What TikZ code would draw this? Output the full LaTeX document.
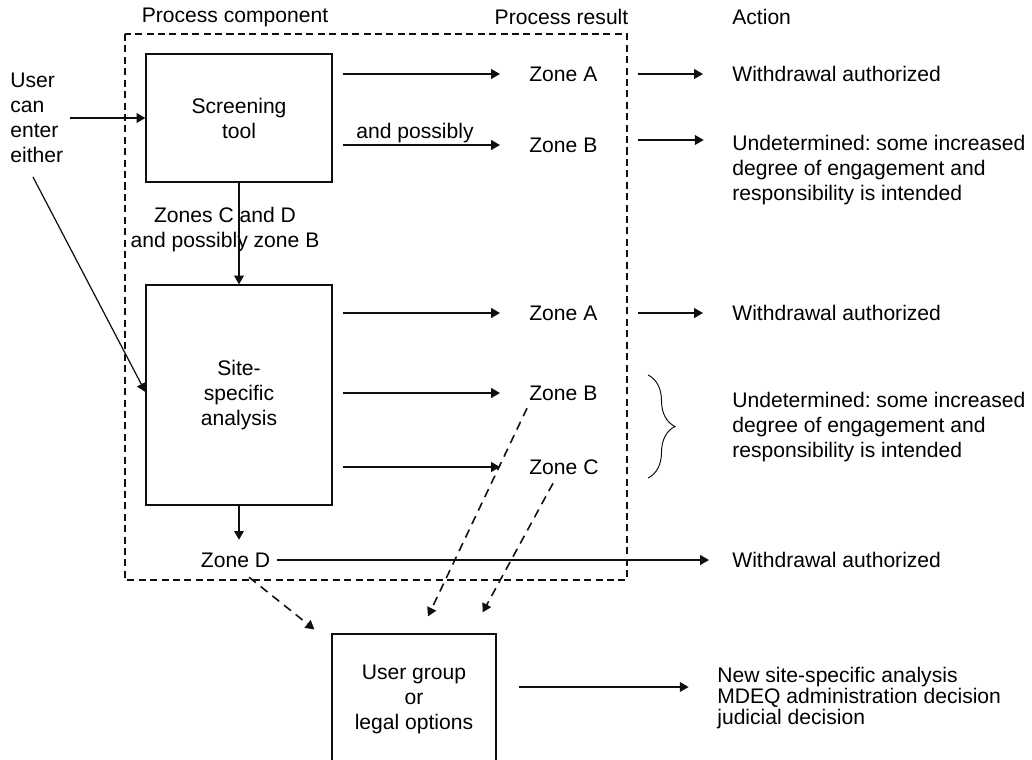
\documentclass[tikz,border=0pt]{standalone}
\usepackage{fontspec}
\setmainfont{Liberation Sans}
\usepackage{tikz}
\usetikzlibrary{arrows.meta, positioning, calc, decorations.pathreplacing}
\definecolor{mydark}{RGB}{15,15,15}
\newcommand{\diagfont}{\fontsize{12}{14.2}\selectfont\frenchspacing}
\tikzset{
  box/.style={rectangle, draw=mydark, align=center, line width=0.7pt, inner sep=2pt},
  lbl/.style={inner sep=0pt, align=center},
  zone/.style={inner sep=0pt, anchor=west},
  acttext/.style={inner sep=0pt, anchor=west, align=left},
  arrow/.style={-{Triangle[length=5pt,width=5.5pt]}, line width=0.9pt, color=mydark},
  res/.style={arrow, shorten <=0.2cm, shorten >=0.58cm},
  dasharrow/.style={arrow, dash pattern=on 5pt off 3.5pt},
  zoneframe/.style={line width=1pt, dash pattern=on 4pt off 2.5pt, color=mydark},
  curly/.style={decorate, decoration={brace, amplitude=0.54cm}, line width=0.55pt, color=mydark}
}

\begin{document}
\begin{tikzpicture}[font=\diagfont]
  \useasboundingbox (0,0) rectangle (20.64,-15.18);

  % Column headings
  \node[lbl] (hcomp) at (4.70,-0.34) {Process component};
  \node[lbl] (hres) at (11.23,-0.34) {Process result};
  \node[acttext] (hact) at (14.64,-0.34) {Action};

  % Process boundary
  \draw[zoneframe] (2.5,-0.68) rectangle (12.54,-11.6);

  % Process components
  \node[box, minimum width=3.72cm, minimum height=2.56cm] (scr) at (4.78,-2.36) {Screening\\tool};
  \node[box, minimum width=3.72cm, minimum height=4.4cm] (site) at (4.78,-7.9) {Site-\\specific\\analysis};
  \node[box, minimum width=3.28cm, minimum height=2.6cm] (ugrp) at (8.28,-13.98) {User group\\or\\legal options};

  % Entry points
  \node[acttext] (user) at (0.2,-2.35) {User\\can\\enter\\either};
  \coordinate (uin) at (1.4,-2.36);
  \coordinate (udiag) at (0.66,-3.54);
  \draw[arrow] (uin) -- (scr.west);
  \draw[arrow, line width=0.7pt] (udiag) -- ($(site.west)+(0,0.06)$);

  % Screening results
  \node[zone] (zA1) at (10.58,-1.48) {Zone A};
  \node[zone] (zB1) at (10.58,-2.9) {Zone B};
  \foreach \z in {zA1,zB1}
    \draw[res] (scr.east |- \z) -- (\z.west);
  \node[lbl] (andp) at (8.3,-2.66) {and possibly};
  \node[lbl] (zcd) at (4.5,-4.59) {Zones C and D\\and possibly zone B};
  \draw[arrow] (scr) -- (site);

  % Site-specific results
  \node[zone] (zA2) at (10.58,-6.26) {Zone A};
  \node[zone] (zB2) at (10.58,-7.86) {Zone B};
  \node[zone] (zC2) at (10.58,-9.34) {Zone C};
  \foreach \z in {zA2,zB2,zC2}
    \draw[res] (site.east |- \z) -- (\z.west);
  \node[lbl] (zD) at (4.71,-11.2) {Zone D};
  \draw[arrow, shorten >=0.25cm] (site.south) -- (site.south |- zD.north);

  % Actions
  \node[acttext] (act1) at (14.64,-1.48) {Withdrawal authorized};
  \node[acttext] (act2) at (14.64,-3.4) {Undetermined: some increased\\degree of engagement and\\responsibility is intended};
  \node[acttext] (act3) at (14.64,-6.26) {Withdrawal authorized};
  \node[acttext] (act4) at (14.64,-8.54) {Undetermined: some increased\\degree of engagement and\\responsibility is intended};
  \node[acttext] (act5) at (14.64,-11.2) {Withdrawal authorized};
  \node[acttext, font=\fontsize{12}{11.8}\selectfont] (act6) at (14.34,-13.96) {New site-specific analysis\\MDEQ administration decision\\judicial decision};

  \draw[arrow, shorten <=0.8cm, shorten >=0.58cm] (zA1.east) -- (act1.west);
  \draw[arrow, shorten <=0.8cm] ([yshift=0.1cm]zB1.east) -- ++(2.12,0);
  \draw[arrow, shorten <=0.8cm, shorten >=0.58cm] (zA2.east) -- (act3.west);
  \draw[curly] (12.96,-7.5) -- (12.96,-9.56);
  \draw[arrow, shorten <=0.14cm, shorten >=0.46cm] (zD.east) -- (act5.west);
  \draw[arrow] ([xshift=0.44cm,yshift=0.24cm]ugrp.east) -- ++(3.4,0);

  % Referrals to user group
  \draw[dasharrow] ([xshift=0.27cm,yshift=-0.19cm]zD.south) -- ($(ugrp.north west)+(-0.34,0.08)$);
  \draw[dasharrow] ([xshift=-0.04cm,yshift=-0.15cm]zB2.south west) -- ($(ugrp.north)+(0.28,0.34)$);
  \draw[dasharrow] ([xshift=0.48cm,yshift=-0.17cm]zC2.south west) -- ($(ugrp.north east)+(-0.28,0.42)$);
\end{tikzpicture}
\end{document}
